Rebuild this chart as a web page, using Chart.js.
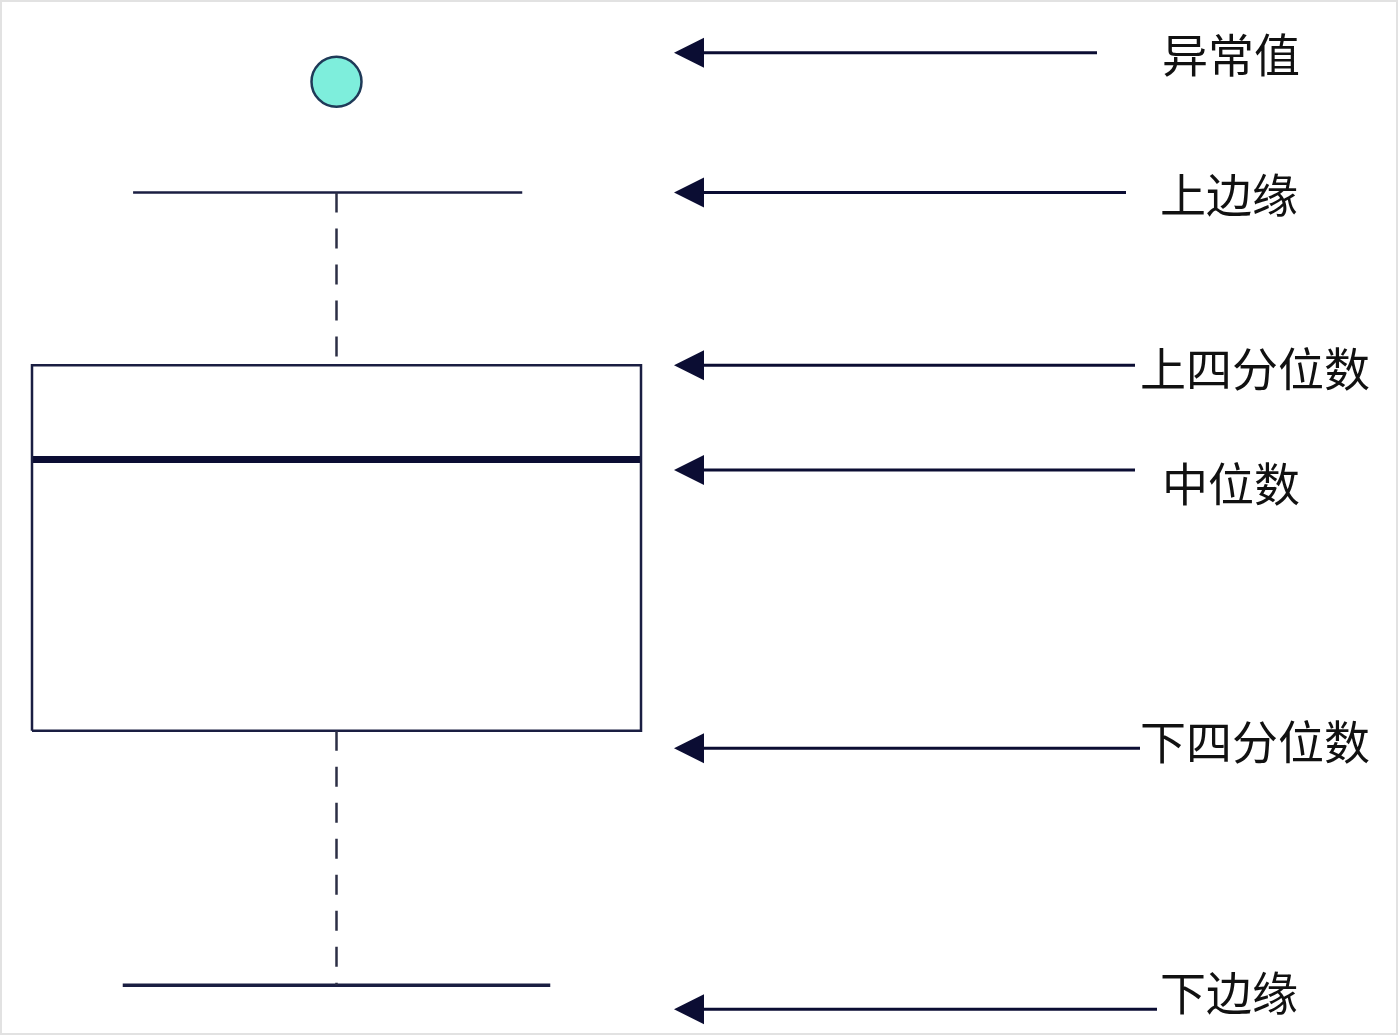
<!DOCTYPE html>
<html>
<head>
<meta charset="utf-8">
<script src="https://cdn.jsdelivr.net/npm/chart.js@4.4.0/dist/chart.umd.min.js"></script>
<style>
    html, body { margin: 0; background: #ffffff; }
    canvas { display: block; }
</style>
</head>
<body>
<canvas id="boxChart" width="1398" height="1035"></canvas>
<script>
// box plot statistics, vertical units 0-100
const statNames = ["下边缘", "下四分位数", "中位数", "上四分位数", "上边缘"];
const statValues = [4.8, 29.4, 55.6, 64.7, 81.4];
const outlierValues = [92.1];

// annotation texts on the right, with where their arrows and texts sit
const noteLabels = ["异常值", "上边缘", "上四分位数", "中位数", "下四分位数", "下边缘"];
const noteArrowValues = [94.9, 81.4, 64.7, 54.6, 27.7, 2.5];
const noteTextValues = [94.7, 81.2, 64.4, 53.3, 28.4, 4.1];

const [lowerEdge, q1, median, q3, upperEdge] = statValues;

const navy = "#1a1e42";
const dark = "#0b0d33";

// the box spans x -0.5..0.5; whisker caps as parts of that width
const upperCap = [-0.334, 0.305];
const lowerCap = [-0.351, 0.351];

function segment(points, extra) {
    return Object.assign({
        type: "scatter",
        data: points,
        showLine: true,
        pointRadius: 0,
        borderColor: navy,
        borderWidth: 2,
        fill: false,
        clip: false,
    }, extra);
}

const annotationPlugin = {
    id: "annotations",
    beforeDraw(chart) {
        const ctx = chart.ctx;
        ctx.save();
        ctx.fillStyle = "#ffffff";
        ctx.fillRect(0, 0, chart.width, chart.height);
        ctx.strokeStyle = "#e2e2e2";
        ctx.lineWidth = 2;
        ctx.strokeRect(1, 1, chart.width - 2, chart.height - 2);
        ctx.restore();
    },
    afterDatasetsDraw(chart) {
        const ctx = chart.ctx;
        const y = chart.scales.y;
        const tipX = 674;
        const baseX = 704;
        const lineEnds = [1097, 1126, 1135, 1135, 1140, 1157];
        const textX = [1162, 1160, 1140, 1162, 1140, 1160];
        ctx.save();
        noteLabels.forEach((label, i) => {
            const ay = y.getPixelForValue(noteArrowValues[i]);
            ctx.strokeStyle = dark;
            ctx.lineWidth = 3;
            ctx.beginPath();
            ctx.moveTo(baseX - 2, ay);
            ctx.lineTo(lineEnds[i], ay);
            ctx.stroke();
            ctx.fillStyle = dark;
            ctx.beginPath();
            ctx.moveTo(tipX, ay);
            ctx.lineTo(baseX, ay - 15);
            ctx.lineTo(baseX, ay + 15);
            ctx.closePath();
            ctx.fill();

            ctx.fillStyle = "#111111";
            ctx.font = '46px "Noto Sans CJK SC"';
            ctx.textBaseline = "middle";
            ctx.textAlign = "left";
            ctx.fillText(label, textX[i], y.getPixelForValue(noteTextValues[i]));
        });
        ctx.restore();
    },
};

new Chart(document.getElementById("boxChart"), {
    type: "scatter",
    data: {
        datasets: [
            // upper whisker, dashed
            segment([{ x: 0, y: upperEdge }, { x: 0, y: q3 }], {
                borderColor: "#2c2f45",
                borderWidth: 2.5,
                borderDash: [20, 16],
            }),
            // lower whisker, dashed
            segment([{ x: 0, y: q1 }, { x: 0, y: lowerEdge }], {
                borderColor: "#2c2f45",
                borderWidth: 2.5,
                borderDash: [20, 16],
            }),
            // whisker caps
            segment([{ x: upperCap[0], y: upperEdge }, { x: upperCap[1], y: upperEdge }], {
                borderWidth: 2.5,
            }),
            segment([{ x: lowerCap[0], y: lowerEdge }, { x: lowerCap[1], y: lowerEdge }], {
                borderWidth: 3.5,
            }),
            // box
            segment([
                { x: -0.5, y: q1 },
                { x: -0.5, y: q3 },
                { x: 0.5, y: q3 },
                { x: 0.5, y: q1 },
                { x: -0.5, y: q1 },
            ], { borderWidth: 2.5 }),
            // median
            segment([{ x: -0.5, y: median }, { x: 0.5, y: median }], {
                borderColor: dark,
                borderWidth: 7,
            }),
            // outliers
            {
                type: "scatter",
                data: outlierValues.map((v) => ({ x: 0, y: v })),
                pointRadius: 25,
                pointBackgroundColor: "#7eeedc",
                pointBorderColor: "#1f3a58",
                pointBorderWidth: 2.5,
                clip: false,
            },
        ],
    },
    options: {
        responsive: false,
        animation: false,
        events: [],
        layout: {
            autoPadding: false,
            padding: { left: 32, right: 757, top: 0, bottom: 0 },
        },
        scales: {
            x: { type: "linear", min: -0.5, max: 0.5, display: false },
            y: { type: "linear", min: 0, max: 100, display: false },
        },
        plugins: {
            legend: { display: false },
            tooltip: { enabled: false },
        },
    },
    plugins: [annotationPlugin],
});
</script>
</body>
</html>
